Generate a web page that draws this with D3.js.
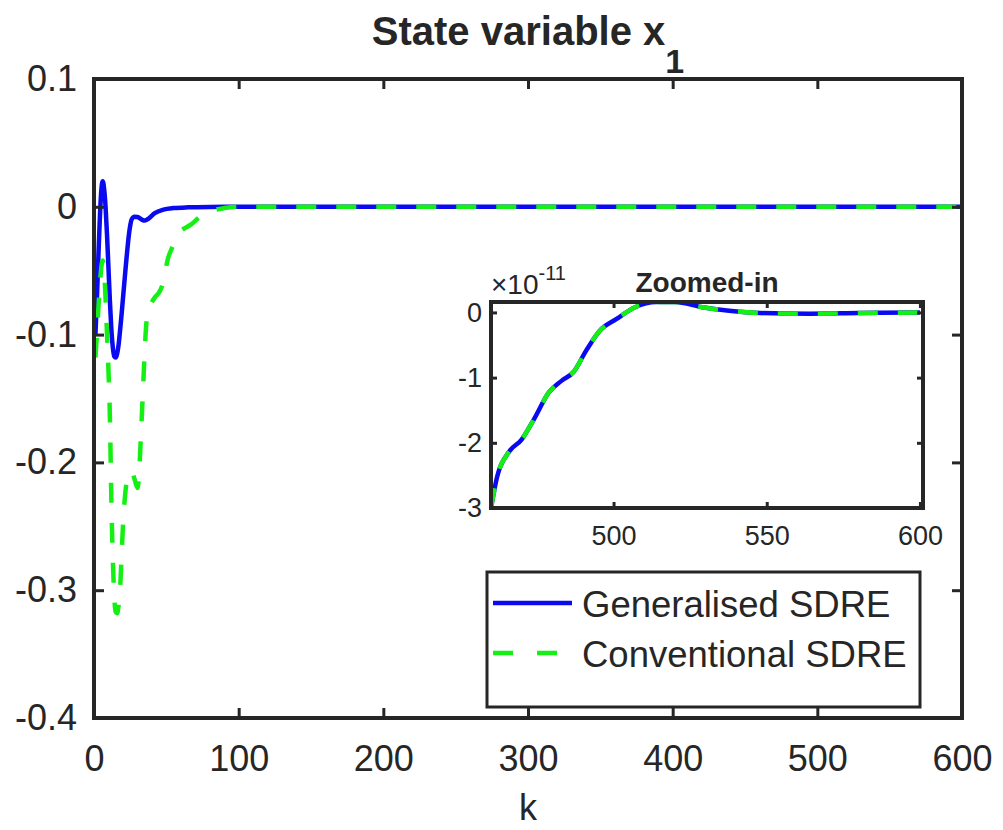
<!DOCTYPE html>
<html>
<head>
<meta charset="utf-8">
<script src="https://cdn.jsdelivr.net/npm/d3@7"></script>
<style>
  body { margin: 0; background: #fff; }
  svg text { font-family: "Liberation Sans", Arial, Helvetica, sans-serif; fill: #262626; }
</style>
</head>
<body>
<div id="chart"></div>
<script>
// main plot data (k, value)
const kMain = [1,2,3,4,5,6,7,8,9,10,11,12,13,14,15,16,17,18,19,20,21,22,23,24,25,26,28,30,33,35,38,42,48,55,65,80,100,200,300,400,500,600];
const genMain = [-0.100,-0.072,-0.040,-0.010,0.012,0.020,0.014,0.000,-0.022,-0.048,-0.074,-0.096,-0.110,-0.117,-0.118,-0.115,-0.108,-0.097,-0.085,-0.072,-0.059,-0.046,-0.034,-0.023,-0.015,-0.010,-0.0078,-0.0080,-0.0100,-0.0108,-0.0090,-0.0050,-0.0022,-0.0010,-0.0004,-0.0001,0,0,0,0,0,0];

const kConv = [1,2,3,4,5,6,7,8,9,10,11,12,13,14,15,16,17,18,19,20,21,22,23,24,26,28,30,31,32,33,34,35,36,37,39,42,45,47,49,51,54,57,60,64,68,72,76,82,90,100,200,300,400,500,600];
const convMain = [-0.118,-0.100,-0.080,-0.062,-0.048,-0.042,-0.050,-0.072,-0.100,-0.128,-0.165,-0.230,-0.275,-0.305,-0.317,-0.318,-0.312,-0.300,-0.275,-0.250,-0.232,-0.220,-0.213,-0.209,-0.207,-0.213,-0.220,-0.212,-0.190,-0.165,-0.140,-0.114,-0.094,-0.084,-0.077,-0.071,-0.067,-0.062,-0.052,-0.041,-0.032,-0.024,-0.019,-0.016,-0.013,-0.009,-0.006,-0.003,-0.001,0,0,0,0,0,0];

// zoomed-in data (k, value x 1e-11), both controllers coincide
const kZoom = [460,462,466,470,474,479,483,487,491,495.5,501,507,514,520,529,537,548,564,580,600];
const valZoom = [-3.0,-2.52,-2.13,-1.95,-1.64,-1.22,-1.05,-0.91,-0.59,-0.28,-0.10,0.08,0.16,0.16,0.08,0.03,-0.01,-0.02,-0.01,0.0];

const xTicks = [0,100,200,300,400,500,600];
const yTicks = [0.1,0,-0.1,-0.2,-0.3,-0.4];
const zxTicks = [500,550,600];
const zyTicks = [0,-1,-2,-3];
const seriesNames = ["Generalised SDRE","Conventional SDRE"];

const blue = "#0a0af0", green = "#14f014", ink = "#262626";
const W = 1003, H = 830;

const svg = d3.select("#chart").append("svg").attr("width", W).attr("height", H);

// main axes
const m = { left: 94, right: 962, top: 79, bottom: 718 };
const x = d3.scaleLinear().domain([0, 600]).range([m.left, m.right]);
const y = d3.scaleLinear().domain([-0.4, 0.1]).range([m.bottom, m.top]);

svg.append("clipPath").attr("id", "clipMain").append("rect")
  .attr("x", m.left).attr("y", m.top).attr("width", m.right - m.left).attr("height", m.bottom - m.top);

const line = d3.line().curve(d3.curveMonotoneX);
const gen = kMain.map((k, i) => [x(k), y(genMain[i])]);
const conv = kConv.map((k, i) => [x(k), y(convMain[i])]);

const plot = svg.append("g").attr("clip-path", "url(#clipMain)");
plot.append("path").attr("d", line(gen)).attr("fill", "none")
  .attr("stroke", blue).attr("stroke-width", 4.5);
plot.append("path").attr("d", line(conv)).attr("fill", "none")
  .attr("stroke", green).attr("stroke-width", 4.5).attr("stroke-dasharray", "20,20");

function styleAxis(g, size) {
  g.select(".domain").remove();
  g.selectAll(".tick line").attr("stroke", ink).attr("stroke-width", 3);
  g.selectAll(".tick text").attr("font-size", size).attr("fill", ink);
}

svg.append("g").attr("transform", `translate(0,${m.bottom})`)
  .call(d3.axisBottom(x).tickValues(xTicks).tickSizeInner(-10).tickSizeOuter(0).tickPadding(27))
  .call(g => styleAxis(g, 36));
svg.append("g").attr("transform", `translate(0,${m.top})`)
  .call(d3.axisTop(x).tickValues(xTicks).tickSizeInner(-10).tickSizeOuter(0).tickFormat(""))
  .call(g => styleAxis(g, 36));
svg.append("g").attr("transform", `translate(${m.left},0)`)
  .call(d3.axisLeft(y).tickValues(yTicks).tickSizeInner(-10).tickSizeOuter(0).tickPadding(17).tickFormat(d => d === 0 ? "0" : d3.format(".1f")(d).replace("−", "-")))
  .call(g => styleAxis(g, 36));
svg.append("g").attr("transform", `translate(${m.right},0)`)
  .call(d3.axisRight(y).tickValues(yTicks).tickSizeInner(-10).tickSizeOuter(0).tickFormat(""))
  .call(g => styleAxis(g, 36));

svg.append("rect").attr("x", m.left).attr("y", m.top)
  .attr("width", m.right - m.left).attr("height", m.bottom - m.top)
  .attr("fill", "none").attr("stroke", ink).attr("stroke-width", 4);

// title and x label
const title = svg.append("text").attr("x", (m.left + m.right) / 2).attr("y", 45)
  .attr("text-anchor", "middle").attr("font-size", 40).attr("font-weight", "bold").attr("fill", "#000");
title.append("tspan").text("State variable x");
title.append("tspan").attr("dy", 28).attr("font-size", 34).text("1");

svg.append("text").attr("x", (m.left + m.right) / 2).attr("y", 820)
  .attr("text-anchor", "middle").attr("font-size", 36).text("k");

// inset
const z = { left: 491, right: 923, top: 302, bottom: 508 };
const zx = d3.scaleLinear().domain([460, 601]).range([z.left, z.right]);
const zy = d3.scaleLinear().domain([-3, 0.16]).range([z.bottom, z.top]);

svg.append("rect").attr("x", z.left).attr("y", z.top)
  .attr("width", z.right - z.left).attr("height", z.bottom - z.top).attr("fill", "#fff");

svg.append("clipPath").attr("id", "clipZoom").append("rect")
  .attr("x", z.left).attr("y", z.top).attr("width", z.right - z.left).attr("height", z.bottom - z.top);

const zpts = kZoom.map((k, i) => [zx(k), zy(valZoom[i])]);
const zplot = svg.append("g").attr("clip-path", "url(#clipZoom)");
zplot.append("path").attr("d", line(zpts)).attr("fill", "none")
  .attr("stroke", blue).attr("stroke-width", 4.5);
zplot.append("path").attr("d", line(zpts)).attr("fill", "none")
  .attr("stroke", green).attr("stroke-width", 4.5).attr("stroke-dasharray", "20,20");

svg.append("g").attr("transform", `translate(0,${z.bottom})`)
  .call(d3.axisBottom(zx).tickValues(zxTicks).tickSizeInner(-6).tickSizeOuter(0).tickPadding(18))
  .call(g => styleAxis(g, 27));
svg.append("g").attr("transform", `translate(0,${z.top})`)
  .call(d3.axisTop(zx).tickValues(zxTicks).tickSizeInner(-6).tickSizeOuter(0).tickFormat(""))
  .call(g => styleAxis(g, 27));
svg.append("g").attr("transform", `translate(${z.left},0)`)
  .call(d3.axisLeft(zy).tickValues(zyTicks).tickSizeInner(-6).tickSizeOuter(0).tickPadding(9).tickFormat(d => String(d)))
  .call(g => styleAxis(g, 27));
svg.append("g").attr("transform", `translate(${z.right},0)`)
  .call(d3.axisRight(zy).tickValues(zyTicks).tickSizeInner(-6).tickSizeOuter(0).tickFormat(""))
  .call(g => styleAxis(g, 27));

svg.append("rect").attr("x", z.left).attr("y", z.top)
  .attr("width", z.right - z.left).attr("height", z.bottom - z.top)
  .attr("fill", "none").attr("stroke", ink).attr("stroke-width", 4);

svg.append("text").attr("x", (z.left + z.right) / 2).attr("y", 292)
  .attr("text-anchor", "middle").attr("font-size", 28).attr("font-weight", "bold")
  .attr("fill", "#000").text("Zoomed-in");

const expo = svg.append("text").attr("x", 491).attr("y", 294).attr("font-size", 28);
expo.append("tspan").text("×10");
expo.append("tspan").attr("dy", -14).attr("font-size", 20).text("-11");

// legend
const lg = svg.append("g");
lg.append("rect").attr("x", 487).attr("y", 572).attr("width", 433).attr("height", 135)
  .attr("fill", "#fff").attr("stroke", ink).attr("stroke-width", 3);
const legendRows = [
  { name: seriesNames[0], color: blue, dash: null, y: 603 },
  { name: seriesNames[1], color: green, dash: "20,24", y: 653 }
];
legendRows.forEach(r => {
  lg.append("line").attr("x1", 493).attr("x2", 572).attr("y1", r.y).attr("y2", r.y)
    .attr("stroke", r.color).attr("stroke-width", 4.5).attr("stroke-dasharray", r.dash);
  lg.append("text").attr("x", 582).attr("y", r.y + 14).attr("font-size", 36.5)
    .attr("fill", "#000").text(r.name);
});
</script>
</body>
</html>
